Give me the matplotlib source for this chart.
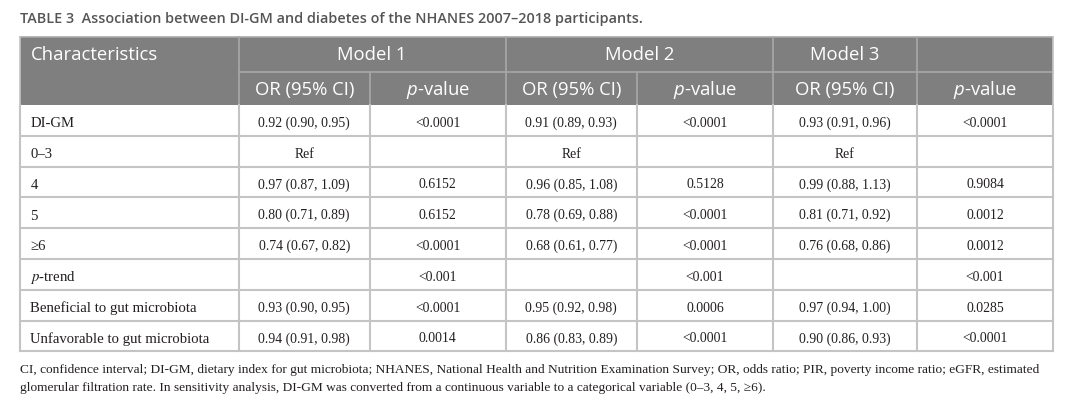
import matplotlib
matplotlib.use('Agg')
import matplotlib.pyplot as plt
from matplotlib.patches import Rectangle

plt.rcParams['mathtext.fontset'] = 'custom'
plt.rcParams['mathtext.it'] = 'Open Sans:italic'
plt.rcParams['mathtext.rm'] = 'Open Sans'

title = 'TABLE 3  Association between DI-GM and diabetes of the NHANES 2007\u20132018 participants.'
models = ['Model 1', 'Model 2', 'Model 3']
sub_heads = ['OR (95% CI)', '$p$-value'] * 3

rows = ['DI-GM', '0\u20133', '4', '5', '\u22656', '$p$-trend',
        'Beneficial to gut microbiota', 'Unfavorable to gut microbiota']
m1_or = ['0.92 (0.90, 0.95)', 'Ref', '0.97 (0.87, 1.09)', '0.80 (0.71, 0.89)',
         '0.74 (0.67, 0.82)', '', '0.93 (0.90, 0.95)', '0.94 (0.91, 0.98)']
m1_p = ['<0.0001', '', '0.6152', '0.6152', '<0.0001', '<0.001', '<0.0001', '0.0014']
m2_or = ['0.91 (0.89, 0.93)', 'Ref', '0.96 (0.85, 1.08)', '0.78 (0.69, 0.88)',
         '0.68 (0.61, 0.77)', '', '0.95 (0.92, 0.98)', '0.86 (0.83, 0.89)']
m2_p = ['<0.0001', '', '0.5128', '<0.0001', '<0.0001', '<0.001', '0.0006', '<0.0001']
m3_or = ['0.93 (0.91, 0.96)', 'Ref', '0.99 (0.88, 1.13)', '0.81 (0.71, 0.92)',
         '0.76 (0.68, 0.86)', '', '0.97 (0.94, 1.00)', '0.90 (0.86, 0.93)']
m3_p = ['<0.0001', '', '0.9084', '0.0012', '0.0012', '<0.001', '0.0285', '<0.0001']

footnote = ['CI, confidence interval; DI-GM, dietary index for gut microbiota; NHANES, National Health and Nutrition Examination Survey; OR, odds ratio; PIR, poverty income ratio; eGFR, estimated',
            'glomerular filtration rate. In sensitivity analysis, DI-GM was converted from a continuous variable to a categorical variable (0\u20133, 4, 5, \u22656).']

# layout (pixels)
W, H = 1073, 414
col_x = [19.5, 238.5, 370, 505.5, 637, 773, 917, 1053]
top, mid, hbot = 37.5, 72.5, 106
row_h = 30.8

head_bg = '#7f7f7f'
head_line = '#a8a8a8'
grid = '#c4c4c4'
txt = '#231f20'
sans = ['Open Sans', 'DejaVu Sans']
serif = ['Liberation Serif', 'DejaVu Serif']

fig = plt.figure(figsize=(W / 100, H / 100), dpi=100)
ax = fig.add_axes([0, 0, 1, 1])
ax.set_xlim(0, W)
ax.set_ylim(H, 0)
ax.axis('off')

ax.text(col_x[0], 23, title, family=sans, fontsize=10.4, fontweight='semibold',
        color='#555555', va='baseline', ha='left')

# header
ax.add_patch(Rectangle((col_x[0], top), col_x[-1] - col_x[0], hbot - top,
                       facecolor=head_bg, edgecolor='none'))
ax.plot([col_x[0], col_x[-1]], [top, top], color=head_line, lw=1.2)
ax.plot([col_x[1], col_x[-1]], [mid, mid], color=head_line, lw=1.2)
for i, x in enumerate(col_x[1:-1], start=1):
    y0 = mid if i in (2, 4) else top
    ax.plot([x, x], [y0, hbot], color=head_line, lw=1.2)

ax.text(col_x[0] + 11, (top + mid) / 2, 'Characteristics', family=sans,
        fontsize=13.3, color='white', va='center', ha='left')
spans = [(1, 3), (3, 5), (5, 6)]
for name, (a, b) in zip(models, spans):
    ax.text((col_x[a] + col_x[b]) / 2, (top + mid) / 2, name, family=sans,
            fontsize=13.3, color='white', va='center', ha='center')
for j, s in enumerate(sub_heads):
    ax.text((col_x[j + 1] + col_x[j + 2]) / 2, (mid + hbot) / 2 + 5.5, s, family=sans,
            fontsize=13.3, color='white', va='baseline', ha='center',
            math_fontfamily='custom')

# body
cols = [m1_or, m1_p, m2_or, m2_p, m3_or, m3_p]
bot = hbot + row_h * len(rows)
for i in range(1, len(rows) + 1):
    y = hbot + row_h * i
    ax.plot([col_x[0], col_x[-1]], [y, y], color=grid, lw=1.5)
for x in col_x:
    ax.plot([x, x], [hbot, bot], color=grid, lw=1.5)
ax.plot([col_x[0], col_x[0]], [top, hbot], color=grid, lw=1.2)
ax.plot([col_x[-1], col_x[-1]], [top, hbot], color=grid, lw=1.2)

for i, lab in enumerate(rows):
    yb = hbot + row_h * (i + 0.5) + 5.8
    ax.text(col_x[0] + 11, yb, lab, family=serif, fontsize=10.6, color=txt,
            va='baseline', ha='left', math_fontfamily='stix')
    for j, c in enumerate(cols):
        ax.text((col_x[j + 1] + col_x[j + 2]) / 2, yb - 0.3, c[i], family=serif,
                fontsize=9.9, color=txt, va='baseline', ha='center')

for k, line in enumerate(footnote):
    ax.text(col_x[0], 372.7 + 18 * k, line, family=serif, fontsize=9.6,
            color=txt, va='baseline', ha='left')

fig.savefig('out.png', dpi=100, facecolor='white')
